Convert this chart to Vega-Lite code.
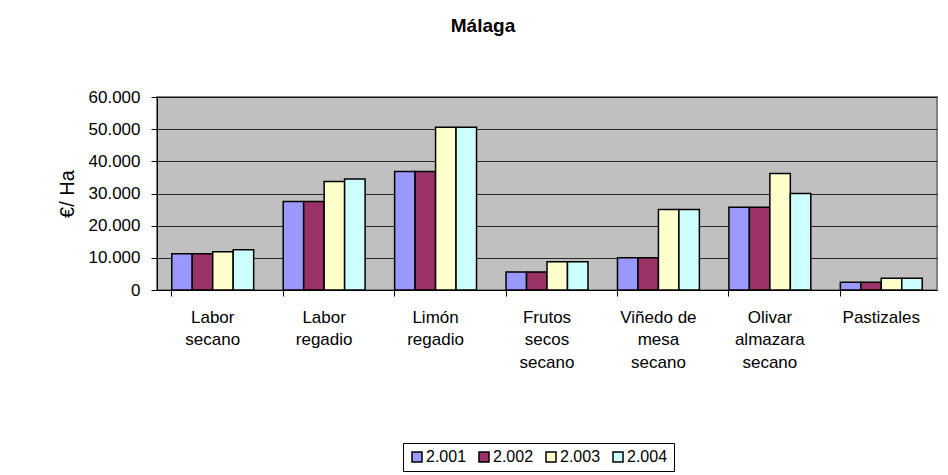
{
  "$schema": "https://vega.github.io/schema/vega-lite/v6.json",
  "width": 780,
  "height": 193,
  "autosize": "none",
  "padding": {"left": 157, "top": 97, "right": 11, "bottom": 185},
  "background": "white",
  "config": {
    "font": "Liberation Sans",
    "locale": {"number": {"decimal": ",", "thousands": ".", "grouping": [3], "currency": ["", " €"]}},
    "view": {"fill": "#C0C0C0", "stroke": "#808080", "strokeWidth": 2}
  },
  "title": {"text": "Málaga", "fontSize": 19, "fontWeight": "bold", "color": "black", "dx": -64, "offset": 52, "anchor": "middle"},
  "data": {
    "values": [
      {"cultivo": "Labor secano", "anio": "2.001", "valor": 11250},
      {"cultivo": "Labor secano", "anio": "2.002", "valor": 11250},
      {"cultivo": "Labor secano", "anio": "2.003", "valor": 11875},
      {"cultivo": "Labor secano", "anio": "2.004", "valor": 12500},
      {"cultivo": "Labor regadio", "anio": "2.001", "valor": 27500},
      {"cultivo": "Labor regadio", "anio": "2.002", "valor": 27500},
      {"cultivo": "Labor regadio", "anio": "2.003", "valor": 33750},
      {"cultivo": "Labor regadio", "anio": "2.004", "valor": 34480},
      {"cultivo": "Limón regadio", "anio": "2.001", "valor": 36875},
      {"cultivo": "Limón regadio", "anio": "2.002", "valor": 36875},
      {"cultivo": "Limón regadio", "anio": "2.003", "valor": 50625},
      {"cultivo": "Limón regadio", "anio": "2.004", "valor": 50625},
      {"cultivo": "Frutos secos secano", "anio": "2.001", "valor": 5625},
      {"cultivo": "Frutos secos secano", "anio": "2.002", "valor": 5625},
      {"cultivo": "Frutos secos secano", "anio": "2.003", "valor": 8750},
      {"cultivo": "Frutos secos secano", "anio": "2.004", "valor": 8750},
      {"cultivo": "Viñedo de mesa secano", "anio": "2.001", "valor": 10000},
      {"cultivo": "Viñedo de mesa secano", "anio": "2.002", "valor": 10000},
      {"cultivo": "Viñedo de mesa secano", "anio": "2.003", "valor": 25000},
      {"cultivo": "Viñedo de mesa secano", "anio": "2.004", "valor": 25000},
      {"cultivo": "Olivar almazara secano", "anio": "2.001", "valor": 25730},
      {"cultivo": "Olivar almazara secano", "anio": "2.002", "valor": 25730},
      {"cultivo": "Olivar almazara secano", "anio": "2.003", "valor": 36250},
      {"cultivo": "Olivar almazara secano", "anio": "2.004", "valor": 30000},
      {"cultivo": "Pastizales", "anio": "2.001", "valor": 2400},
      {"cultivo": "Pastizales", "anio": "2.002", "valor": 2400},
      {"cultivo": "Pastizales", "anio": "2.003", "valor": 3650},
      {"cultivo": "Pastizales", "anio": "2.004", "valor": 3650}
    ]
  },
  "mark": {"type": "bar", "stroke": "black", "strokeWidth": 1.5},
  "encoding": {
    "x": {
      "field": "cultivo",
      "type": "nominal",
      "sort": null,
      "scale": {"paddingInner": 0.265, "paddingOuter": 0.1325},
      "axis": {
        "title": null,
        "labelAngle": 0,
        "labelFontSize": 17,
        "labelColor": "black",
        "labelLineHeight": 22.5,
        "labelPadding": 13,
        "labelBaseline": "top",
        "labelExpr": "datum.value == 'Viñedo de mesa secano' ? ['Viñedo de', 'mesa', 'secano'] : split(datum.value, ' ')",
        "bandPosition": 0,
        "tickColor": "black",
        "tickSize": 6,
        "domainColor": "black",
        "domainWidth": 1,
        "labelLimit": 200
      }
    },
    "xOffset": {"field": "anio", "type": "nominal", "scale": {"paddingInner": 0}},
    "y": {
      "field": "valor",
      "type": "quantitative",
      "scale": {"domain": [0, 60000], "nice": false},
      "axis": {
        "title": "€/ Ha",
        "titleFontSize": 20,
        "titleFontWeight": "normal",
        "titleColor": "black",
        "titlePadding": 11,
        "values": [0, 10000, 20000, 30000, 40000, 50000, 60000],
        "format": ",d",
        "labelFontSize": 17,
        "labelColor": "black",
        "labelPadding": 11,
        "tickColor": "black",
        "tickSize": 6,
        "domainColor": "black",
        "gridColor": "black",
        "gridOpacity": 0.8,
        "gridWidth": 1
      }
    },
    "color": {
      "field": "anio",
      "type": "nominal",
      "scale": {"domain": ["2.001", "2.002", "2.003", "2.004"], "range": ["#9999FF", "#993366", "#FFFFCC", "#CCFFFF"]},
      "legend": {
        "title": null,
        "orient": "none",
        "direction": "horizontal",
        "legendX": 246,
        "legendY": 346,
        "symbolType": "square",
        "symbolSize": 100,
        "symbolStrokeColor": "black",
        "symbolStrokeWidth": 1.5,
        "symbolOpacity": 1,
        "labelFontSize": 16,
        "labelColor": "black",
        "labelOffset": 1,
        "columnPadding": 9,
        "padding": 6,
        "strokeColor": "black",
        "fillColor": "white"
      }
    }
  }
}
